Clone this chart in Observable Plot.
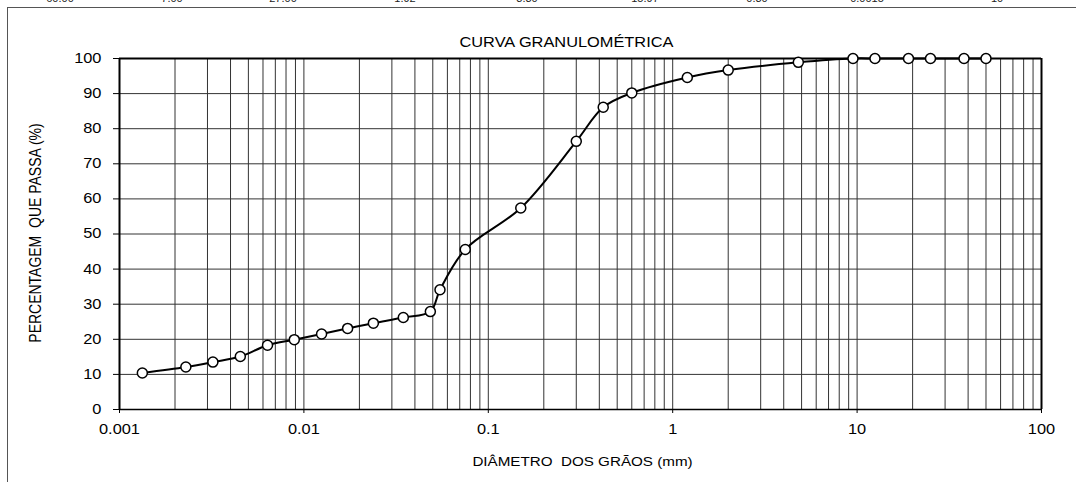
<!DOCTYPE html>
<html>
<head>
<meta charset="utf-8">
<script src="https://cdn.jsdelivr.net/npm/d3@7"></script>
<script src="https://cdn.jsdelivr.net/npm/@observablehq/plot@0.6"></script>
<style>
  html, body { margin: 0; padding: 0; background: #fff; }
  #wrap { position: relative; width: 1076px; height: 482px; overflow: hidden;
          font-family: "Liberation Sans", Arial, sans-serif; background: #fff; }
  #frame { position: absolute; left: 7px; top: 7px; width: 1090px; height: 500px;
           border: 1px solid #555; box-sizing: border-box; }
  #strip span { position: absolute; top: -7px; font-size: 11px; line-height: 11px;
                color: #222; transform: translateX(-50%); white-space: nowrap; }
  #strip span:nth-child(1) { left: 60px; }
  #strip span:nth-child(2) { left: 172px; }
  #strip span:nth-child(3) { left: 283px; }
  #strip span:nth-child(4) { left: 405px; }
  #strip span:nth-child(5) { left: 527px; }
  #strip span:nth-child(6) { left: 645px; }
  #strip span:nth-child(7) { left: 757px; }
  #strip span:nth-child(8) { left: 867px; }
  #strip span:nth-child(9) { left: 997px; }
  svg { position: absolute; left: 0; top: 0; }
</style>
</head>
<body>
<div id="wrap">
  <div id="strip"></div>
  <div id="frame"></div>
</div>
<script>
// ---- data ----
const stripLabels = ["60.00", "7.00", "27.00", "1.92", "3.30", "15.97", "0.30", "0.0015", "10"];

const diameters = [0.00133, 0.00229, 0.00321, 0.00452, 0.00635, 0.00887, 0.01247, 0.01726,
                   0.02381, 0.0346, 0.0485, 0.0547, 0.075, 0.15, 0.3, 0.42, 0.6, 1.2, 2.0,
                   4.8, 9.5, 12.5, 19, 25, 38, 50];
const passing   = [10.4, 12.1, 13.5, 15.1, 18.3, 19.9, 21.5, 23.1,
                   24.6, 26.2, 27.9, 34.1, 45.6, 57.4, 76.4, 86.1, 90.2, 94.6, 96.7,
                   98.9, 100, 100, 100, 100, 100, 100];

const xTickValues = [0.001, 0.01, 0.1, 1, 10, 100];
const xTickLabels = ["0.001", "0.01", "0.1", "1", "10", "100"];
const yTickValues = [0, 10, 20, 30, 40, 50, 60, 70, 80, 90, 100];

const titleText = "CURVA GRANULOMÉTRICA";
const xLabelText = "DIÂMETRO  DOS GRÃOS (mm)";
const yLabelText = "PERCENTAGEM  QUE PASSA (%)";

// ---- build ----
const strip = document.getElementById("strip");
stripLabels.forEach(s => { const sp = document.createElement("span"); sp.textContent = s; strip.appendChild(sp); });

const data = diameters.map((d, i) => ({ d, p: passing[i] }));
const gridX = d3.range(-3, 2).flatMap(k => d3.range(1, 10).map(m => +(m * Math.pow(10, k)).toPrecision(6))).concat([100]);
const gridY = yTickValues.filter(v => v > 0 && v < 100);

const chart = Plot.plot({
  width: 1076,
  height: 482,
  marginLeft: 119,
  marginRight: 35,
  marginTop: 58,
  marginBottom: 73,
  style: { fontFamily: '"Liberation Sans", Arial, sans-serif', fontSize: "14px", color: "#000", background: "transparent", overflow: "visible" },
  x: { type: "log", domain: [0.001, 100], ticks: xTickValues,
       tickFormat: d => xTickLabels[xTickValues.findIndex(v => Math.abs(v - d) < d * 1e-6)],
       tickSize: 4, tickPadding: 11, label: null },
  y: { domain: [0, 100], ticks: yTickValues, tickFormat: d => String(d),
       tickSize: 6, tickPadding: 12, label: null },
  marks: [
    Plot.ruleX(gridX, { stroke: "#333", strokeWidth: 1 }),
    Plot.ruleY(gridY, { stroke: "#333", strokeWidth: 1 }),
    Plot.ruleY([0], { stroke: "#000", strokeWidth: 1.5 }),
    Plot.ruleY([100], { stroke: "#000", strokeWidth: 2 }),
    Plot.ruleX([0.001], { stroke: "#000", strokeWidth: 2 }),
    Plot.ruleX([100], { stroke: "#000", strokeWidth: 2 }),
    Plot.line(data, { x: "d", y: "p", curve: "catmull-rom", stroke: "#000", strokeWidth: 2 }),
    Plot.dot(data, { x: "d", y: "p", r: 5, fill: "#fff", stroke: "#000", strokeWidth: 1.5 }),
    Plot.text([titleText], { text: d => d, frameAnchor: "top", textAnchor: "middle", dy: -21, dx: -14, fontSize: 14 }),
    Plot.text([xLabelText], { text: d => d, frameAnchor: "bottom", textAnchor: "middle", dy: 56, dx: 2, fontSize: 13 }),
    Plot.text([yLabelText], { text: d => d, frameAnchor: "left", textAnchor: "middle", dx: -84, dy: -1, rotate: -90, fontSize: 14 })
  ]
});
chart.querySelectorAll("text").forEach(t => t.style.whiteSpace = "pre");
document.getElementById("wrap").appendChild(chart);

// the reference text is horizontally stretched; widen each label about its anchor
const SX = 1.17;
chart.querySelectorAll("text").forEach(t => {
  const r = t.getBoundingClientRect();
  const anchor = getComputedStyle(t).textAnchor;
  const px = anchor === "end" ? r.right : anchor === "start" ? r.left : (r.left + r.right) / 2;
  const pt = chart.createSVGPoint(); pt.x = px; pt.y = 0;
  const p = pt.matrixTransform(t.parentNode.getScreenCTM().inverse());
  const g = document.createElementNS("http://www.w3.org/2000/svg", "g");
  g.setAttribute("transform", `translate(${p.x},0) scale(${SX},1) translate(${-p.x},0)`);
  t.parentNode.insertBefore(g, t);
  g.appendChild(t);
});
</script>
</body>
</html>
